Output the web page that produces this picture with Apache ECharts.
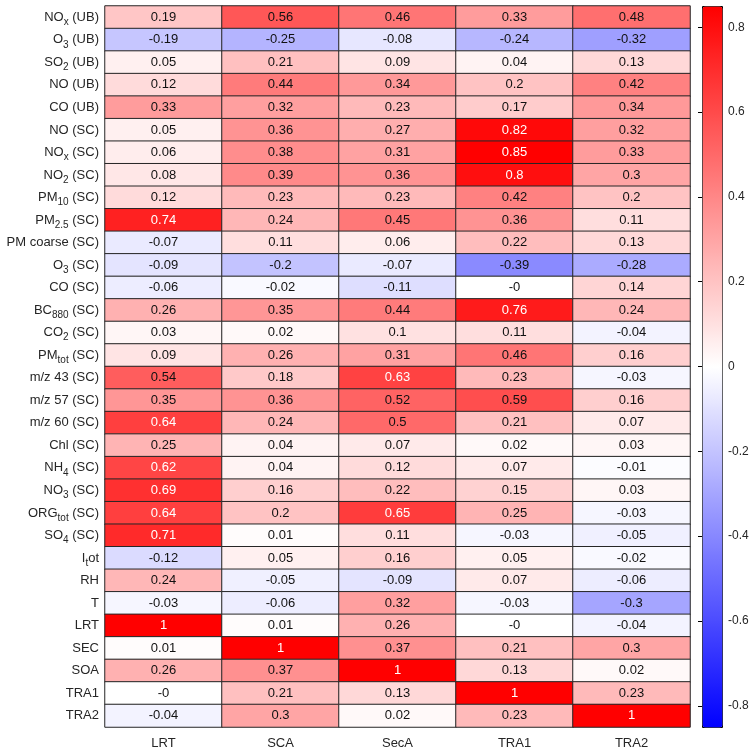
<!DOCTYPE html>
<html>
<head>
<meta charset="utf-8">
<script src="https://cdn.jsdelivr.net/npm/echarts@6/dist/echarts.min.js"></script>
<style>
  html, body { margin: 0; padding: 0; background: #fff; }
  #main { width: 756px; height: 755px; }
</style>
</head>
<body>
<div id="main"></div>
<script>
const columns = ["LRT", "SCA", "SecA", "TRA1", "TRA2"];

// row labels, {s|..} marks a subscript
const rows = [
  "NO{s|x} (UB)", "O{s|3} (UB)", "SO{s|2} (UB)", "NO (UB)", "CO (UB)",
  "NO (SC)", "NO{s|x} (SC)", "NO{s|2} (SC)", "PM{s|10} (SC)", "PM{s|2.5} (SC)",
  "PM coarse (SC)", "O{s|3} (SC)", "CO (SC)", "BC{s|880} (SC)", "CO{s|2} (SC)",
  "PM{s|tot} (SC)", "m/z 43 (SC)", "m/z 57 (SC)", "m/z 60 (SC)", "Chl (SC)",
  "NH{s|4} (SC)", "NO{s|3} (SC)", "ORG{s|tot} (SC)", "SO{s|4} (SC)", "I{s|t}ot",
  "RH", "T", "LRT", "SEC", "SOA", "TRA1", "TRA2"
];

const lrt  = [0.19, -0.19, 0.05, 0.12, 0.33, 0.05, 0.06, 0.08, 0.12, 0.74, -0.07, -0.09, -0.06, 0.26, 0.03, 0.09,
              0.54, 0.35, 0.64, 0.25, 0.62, 0.69, 0.64, 0.71, -0.12, 0.24, -0.03, 1, 0.01, 0.26, -0, -0.04];
const sca  = [0.56, -0.25, 0.21, 0.44, 0.32, 0.36, 0.38, 0.39, 0.23, 0.24, 0.11, -0.2, -0.02, 0.35, 0.02, 0.26,
              0.18, 0.36, 0.24, 0.04, 0.04, 0.16, 0.2, 0.01, 0.05, -0.05, -0.06, 0.01, 1, 0.37, 0.21, 0.3];
const seca = [0.46, -0.08, 0.09, 0.34, 0.23, 0.27, 0.31, 0.36, 0.23, 0.45, 0.06, -0.07, -0.11, 0.44, 0.1, 0.31,
              0.63, 0.52, 0.5, 0.07, 0.12, 0.22, 0.65, 0.11, 0.16, -0.09, 0.32, 0.26, 0.37, 1, 0.13, 0.02];
const tra1 = [0.33, -0.24, 0.04, 0.2, 0.17, 0.82, 0.85, 0.8, 0.42, 0.36, 0.22, -0.39, -0, 0.76, 0.11, 0.46,
              0.23, 0.59, 0.21, 0.02, 0.07, 0.15, 0.25, -0.03, 0.05, 0.07, -0.03, -0, 0.21, 0.13, 1, 0.23];
const tra2 = [0.48, -0.32, 0.13, 0.42, 0.34, 0.32, 0.33, 0.3, 0.2, 0.11, 0.13, -0.28, 0.14, 0.24, -0.04, 0.16,
              -0.03, 0.16, 0.07, 0.03, -0.01, 0.03, -0.03, -0.05, -0.02, -0.06, -0.3, -0.04, 0.3, 0.02, 0.23, 1];

const colorTicks = [-0.8, -0.6, -0.4, -0.2, 0, 0.2, 0.4, 0.6, 0.8];
const colorMin = -0.85;
const colorMax = 0.85;

const seriesByColumn = [lrt, sca, seca, tra1, tra2];

function fmt(v) {
  return Object.is(v, -0) ? "-0" : String(v);
}

function buildCells() {
  const cells = [];
  seriesByColumn.forEach((col, x) => {
    col.forEach((v, y) => {
      cells.push({
        value: [x, y, v],
        label: { color: v > 0.6 ? "#ffffff" : "#111111" }
      });
    });
  });
  return cells;
}

const labelRich = {
  b: { fontSize: 13, color: "#262626", lineHeight: 14, padding: [4, 0, 4, 0], fontFamily: "Liberation Sans" },
  s: { fontSize: 10, color: "#262626", lineHeight: 12, padding: [10, 0, 0, 0], fontFamily: "Liberation Sans" }
};

const chart = echarts.init(document.getElementById("main"));

chart.setOption({
  animation: false,
  textStyle: { fontFamily: "Liberation Sans" },
  grid: [
    { left: 105, right: 66, top: 6, bottom: 28 },
    { left: 702, width: 20, top: 6, bottom: 28 }
  ],
  xAxis: [
    {
      type: "category",
      data: columns,
      gridIndex: 0,
      position: "bottom",
      axisLine: { show: false },
      axisTick: { show: false },
      splitLine: { show: false },
      axisLabel: { fontSize: 13, color: "#262626", margin: 10 }
    },
    { type: "value", gridIndex: 1, show: false }
  ],
  yAxis: [
    {
      type: "category",
      data: rows,
      gridIndex: 0,
      inverse: true,
      axisLine: { show: false },
      axisTick: { show: false },
      splitLine: { show: false },
      axisLabel: {
        margin: 6,
        interval: 0,
        showMinLabel: true,
        showMaxLabel: true,
        hideOverlap: false,
        formatter: (s) => s.split(/(\{s\|[^}]*\})/).filter(Boolean)
          .map(p => p.startsWith("{s|") ? p : "{b|" + p + "}").join(""),
        rich: labelRich
      }
    },
    {
      type: "value",
      gridIndex: 1,
      min: colorMin,
      max: colorMax,
      position: "right",
      z: 10,
      axisLine: { show: false },
      splitLine: { show: false },
      axisTick: {
        inside: true,
        length: 4,
        lineStyle: { color: "#000" },
        customValues: colorTicks
      },
      axisLabel: {
        margin: 6,
        fontSize: 12,
        color: "#262626",
        customValues: colorTicks,
        formatter: (v) => String(v)
      }
    }
  ],
  visualMap: {
    type: "continuous",
    seriesIndex: 0,
    min: colorMin,
    max: colorMax,
    calculable: false,
    orient: "vertical",
    left: 702,
    top: 6,
    itemWidth: 20,
    itemHeight: 721,
    padding: 0,
    borderColor: "#000",
    borderWidth: 1,
    hoverLink: false,
    inRange: { color: ["#0000ff", "#ffffff", "#ff0000"] }
  },
  series: [
    {
      type: "heatmap",
      xAxisIndex: 0,
      yAxisIndex: 0,
      data: buildCells(),
      itemStyle: { borderColor: "#262626", borderWidth: 1 },
      label: {
        show: true,
        fontSize: 13,
        formatter: (p) => fmt(seriesByColumn[p.value[0]][p.value[1]])
      },
      emphasis: { disabled: true }
    }
  ]
});
</script>
</body>
</html>
